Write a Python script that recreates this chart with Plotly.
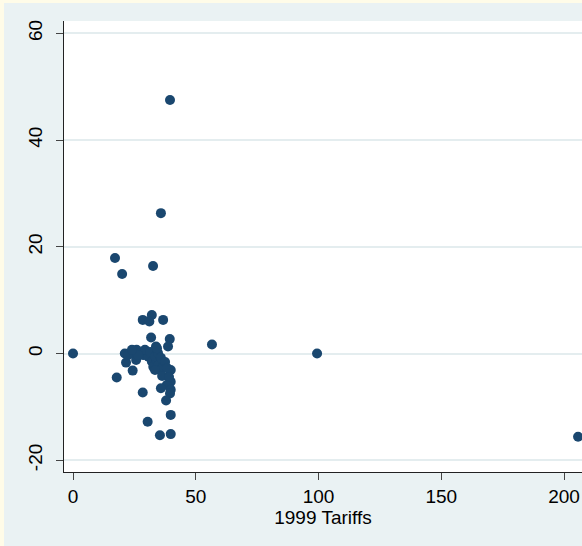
import plotly.graph_objects as go

# ---- data ----
tariffs_1999 = [0, 17.1, 20.0, 17.8, 39.5, 35.8, 32.6, 28.4, 32.1, 31.1, 36.7, 31.8,
                39.4, 38.7, 33.8, 56.6, 99.4, 205.7, 21.1, 21.6, 24.3, 25.9, 24.6, 27.3,
                25.7, 28.6, 30.7, 32.1, 32.7, 34.1, 34.7, 35.4, 36.8, 33.4, 39.8, 38.8,
                39.8, 38.2, 39.8, 39.5, 35.8, 28.4, 37.9, 39.8, 30.4, 35.4, 39.8,
                29.3, 31.4, 33.4, 34.6, 35.8, 37.5, 38.3, 36.3, 39.1, 34.2, 22.4, 26.5, 24.0]
change = [0, 17.9, 14.9, -4.5, 47.5, 26.3, 16.4, 6.3, 7.2, 6.0, 6.3, 3.0,
          2.7, 1.3, 1.3, 1.7, 0, -15.6, 0, -1.7, -3.2, 0.7, 0, 0,
          -1.2, -0.3, -0.6, -1.5, -2.5, -1.2, -2.2, -3.1, -2.5, -3.1, -3.1, -4.3,
          -5.3, -5.9, -6.8, -7.5, -6.5, -7.3, -8.8, -11.5, -12.8, -15.3, -15.1,
          0.7, 0.3, -0.5, 0.1, -0.8, -1.6, -2.7, -4.2, -4.4, 1.0, -0.3, -0.3, 0.7]

x_ticks = [0, 50, 100, 150, 200]
x_labels = ["0", "50", "100", "150", "200"]
y_ticks = [-20, 0, 20, 40, 60]
y_labels = ["-20", "0", "20", "40", "60"]
x_title = "1999 Tariffs"

# ---- layout constants ----
W, H = 582, 546
ML, MT, MB, MR = 64, 21, 74, 0
BG = "#EAF2F3"
CREAM = "#FFFCE8"
NAVY = "#1A476F"
FONT = "Liberation Sans Narrow, Arial Narrow, Liberation Sans, Arial, sans-serif"

fig = go.Figure(go.Scatter(
    x=tariffs_1999, y=change, mode="markers",
    marker=dict(color=NAVY, size=10, line=dict(width=0)),
    hoverinfo="x+y",
))

pw = W - ML - MR
ph = H - MT - MB

def px_x(p):
    return (p - ML) / pw

def px_y(p):
    return (H - MB - p) / ph

fig.update_layout(
    width=W, height=H,
    margin=dict(l=ML, r=MR, t=MT, b=MB, pad=0),
    paper_bgcolor=BG, plot_bgcolor="white",
    showlegend=False,
    font=dict(family=FONT, size=19, color="black"),
    xaxis=dict(
        range=[-3.67, 207.3], tickvals=x_ticks, ticktext=x_labels,
        ticks="outside", ticklen=7,
        tickcolor="#444", showgrid=False, zeroline=False,
        showline=True, linecolor="#222", linewidth=1,
        title=dict(text=x_title, standoff=0, font=dict(size=19)),
        tickfont=dict(size=19),
    ),
    yaxis=dict(
        range=[-22.2, 62.3], tickvals=y_ticks, ticktext=y_labels,
        ticks="outside", ticklen=7,
        tickcolor="#444", showgrid=True, gridcolor="#E4EDEF", gridwidth=1.5,
        zeroline=False, showline=True, linecolor="#222", linewidth=1,
        tickangle=-90, tickfont=dict(size=19), ticklabelstandoff=6,
    ),
    shapes=[
        dict(type="rect", xref="paper", yref="paper",
             x0=px_x(0), x1=px_x(4), y0=px_y(H), y1=px_y(0),
             fillcolor=CREAM, line=dict(width=0), layer="above"),
        dict(type="rect", xref="paper", yref="paper",
             x0=px_x(0), x1=px_x(W), y0=px_y(3), y1=px_y(0),
             fillcolor=CREAM, line=dict(width=0), layer="above"),
    ],
)

fig.write_html("out.html")
